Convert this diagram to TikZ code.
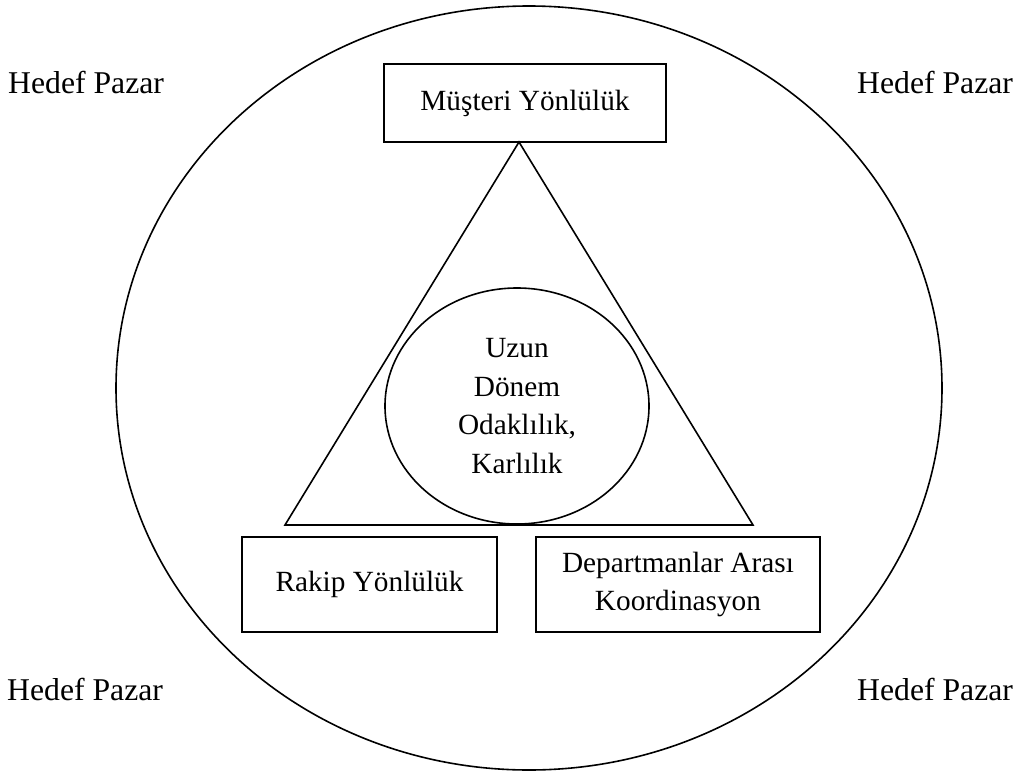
\documentclass[tikz,border=0pt]{standalone}
\usepackage{fontspec}
\setmainfont{Liberation Serif}
\usetikzlibrary{shapes.geometric}
\tikzset{
  line/.style={draw=black, line width=1.6pt},
  lbl/.style={font=\fontsize{29.3}{38.7}\selectfont, inner sep=0pt, align=center},
  boxnode/.style={line, lbl, rectangle},
  hedef/.style={font=\fontsize{31.7}{38}\selectfont, inner sep=0pt, anchor=base west}
}
\begin{document}
\begin{tikzpicture}[x=1pt, y=1pt]
\useasboundingbox (0,0) rectangle (1023,-771);
% outer ellipse (target market)
\draw[line] (529,-388) ellipse [x radius=413, y radius=382];
% labels
\node[hedef] (hTL) at (8,-93) {Hedef Pazar};
\node[hedef] (hTR) at (857,-93) {Hedef Pazar};
\node[hedef] (hBL) at (7,-700) {Hedef Pazar};
\node[hedef] (hBR) at (857,-700) {Hedef Pazar};
% boxes
\node[boxnode, minimum width=282pt, minimum height=78pt] (mus) at (525,-103) {Müşteri Yönlülük};
\node[boxnode, minimum width=255pt, minimum height=95pt] (rakip) at (369.5,-584.5) {Rakip Yönlülük};
\node[boxnode, minimum width=284pt, minimum height=95pt] (dep) at (678,-584.5) {Departmanlar Arası\\Koordinasyon};
% triangle
\coordinate (apex) at (519,-142);
\coordinate (bl) at (285,-525);
\coordinate (br) at (753,-525);
\draw[line, line join=miter] (apex) -- (bl) -- (br) -- cycle;
% inner ellipse
\node[line, lbl, ellipse, minimum width=264pt, minimum height=236pt] (core) at (517,-406) {Uzun\\Dönem\\Odaklılık,\\Karlılık};
\end{tikzpicture}
\end{document}
